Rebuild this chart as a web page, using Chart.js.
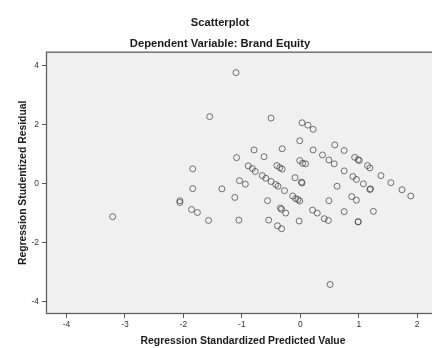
<!DOCTYPE html>
<html>
<head>
<meta charset="utf-8">
<script src="https://cdn.jsdelivr.net/npm/chart.js@4"></script>
<style>
  html, body { margin: 0; padding: 0; background: #fff; overflow: hidden; }
  #wrap { width: 446px; height: 348px; }
</style>
</head>
<body>
<div id="wrap"><canvas id="scatterChart" width="446" height="348"></canvas></div>
<script>
// values
const predictedValue = [
  -1.10, -1.55, -0.50, 0.03, 0.13, 0.22, -0.01, 0.59, 0.75, -0.79,
  -0.31, 0.22, 0.38, 0.49, 0.58, -1.09, -0.62, 0.93, 0.99, 1.01,
  1.15, 1.19, 1.38, 1.55, 1.74, 1.89, 0.75, 0.90, 0.96, 1.08,
  1.20, 1.19, 0.63, 0.49, 0.88, 0.96, 0.75, 1.25, 0.41, 0.48,
  0.99, 0.99, -0.89, -0.82, -0.77, -0.40, -0.35, -0.31, -0.01, 0.04,
  0.09, -1.04, -0.94, -0.65, -0.59, -0.50, -0.42, -0.38, -0.27, -0.09,
  0.02, 0.03, -1.12, -0.56, -0.13, -0.08, -0.04, -0.01, -0.34, -0.32,
  -0.25, 0.21, 0.29, -1.05, -0.54, -0.02, -0.39, -0.32, 0.51, -1.84,
  -1.84, -1.34, -2.06, -2.06, -1.86, -1.76, -1.57, -3.21
];
const studentizedResidual = [
  3.76, 2.27, 2.22, 2.06, 1.98, 1.84, 1.45, 1.31, 1.12, 1.14,
  1.18, 1.14, 0.97, 0.80, 0.67, 0.88, 0.91, 0.89, 0.81, 0.78,
  0.61, 0.53, 0.27, 0.03, -0.21, -0.42, 0.43, 0.24, 0.14, -0.01,
  -0.18, -0.20, -0.09, -0.58, -0.44, -0.56, -0.95, -0.94, -1.19, -1.25,
  -1.29, -1.30, 0.60, 0.51, 0.41, 0.61, 0.54, 0.49, 0.78, 0.69,
  0.67, 0.10, -0.02, 0.27, 0.18, 0.07, -0.03, -0.09, -0.24, 0.20,
  0.05, 0.02, -0.47, -0.58, -0.42, -0.51, -0.54, -0.59, -0.83, -0.87,
  -1.00, -0.90, -1.00, -1.24, -1.24, -1.27, -1.43, -1.53, -3.42, 0.50,
  -0.17, -0.18, -0.58, -0.64, -0.88, -0.98, -1.25, -1.12
];
const xTicks = [-4, -3, -2, -1, 0, 1, 2];
const yTicks = [-4, -2, 0, 2, 4];

const points = predictedValue.map((x, i) => ({ x: x, y: studentizedResidual[i] }));

// grey plot panel with a frame all round
const plotFrame = {
  id: 'plotFrame',
  beforeDatasetsDraw(chart) {
    const a = chart.chartArea;
    const ctx = chart.ctx;
    ctx.save();
    ctx.fillStyle = '#f0f0f0';
    ctx.fillRect(a.left, a.top, a.right - a.left, a.bottom - a.top);
    ctx.strokeStyle = '#606060';
    ctx.lineWidth = 1.3;
    ctx.strokeRect(a.left + 0.5, a.top + 0.5, a.right - a.left - 1, a.bottom - a.top - 1);
    ctx.restore();
  }
};

const tickFont = { family: 'Liberation Sans', size: 8.5 };
const axisTitleFont = { family: 'Liberation Sans', size: 10.4, weight: 'bold' };
const headFont = { family: 'Liberation Sans', size: 11.2, weight: 'bold' };

new Chart(document.getElementById('scatterChart'), {
  type: 'scatter',
  data: {
    datasets: [{
      data: points,
      pointStyle: 'circle',
      pointRadius: 3,
      pointHoverRadius: 3,
      borderWidth: 1,
      borderColor: 'rgba(60, 60, 60, 0.7)',
      backgroundColor: 'rgba(0, 0, 0, 0)'
    }]
  },
  options: {
    responsive: false,
    animation: false,
    layout: { padding: { left: 0, right: 6, top: 0, bottom: 0 }, autoPadding: false },
    plugins: {
      legend: { display: false },
      tooltip: { enabled: false },
      title: {
        display: true,
        text: 'Scatterplot',
        color: '#1a1a1a',
        font: headFont,
        padding: { top: 16.3, bottom: 2 }
      },
      subtitle: {
        display: true,
        text: 'Dependent Variable: Brand Equity',
        color: '#1a1a1a',
        font: headFont,
        padding: { top: 5.5, bottom: 1 }
      }
    },
    scales: {
      x: {
        type: 'linear',
        min: -4.35,
        max: 2.39,
        afterFit(scale) { scale.height = 34; },
        afterBuildTicks(scale) { scale.ticks = xTicks.map(v => ({ value: v })); },
        grid: { display: true, drawOnChartArea: false, drawTicks: true, tickLength: 4, tickColor: '#555' },
        border: { display: false },
        ticks: { color: '#333', font: tickFont, padding: 2, maxRotation: 0, autoSkip: false },
        title: {
          display: true,
          text: 'Regression Standardized Predicted Value',
          color: '#1a1a1a',
          font: axisTitleFont,
          padding: { top: 0, bottom: 0.8 }
        }
      },
      y: {
        type: 'linear',
        min: -4.42,
        max: 4.47,
        afterFit(scale) { scale.width = 46; },
        afterBuildTicks(scale) { scale.ticks = yTicks.map(v => ({ value: v })); },
        grid: { display: true, drawOnChartArea: false, drawTicks: true, tickLength: 4, tickColor: '#555' },
        border: { display: false },
        ticks: { color: '#333', font: tickFont, padding: 3, autoSkip: false },
        title: {
          display: true,
          text: 'Regression Studentized Residual',
          color: '#1a1a1a',
          font: axisTitleFont,
          padding: { top: 16.8, bottom: 0 }
        }
      }
    }
  },
  plugins: [plotFrame]
});
</script>
</body>
</html>
